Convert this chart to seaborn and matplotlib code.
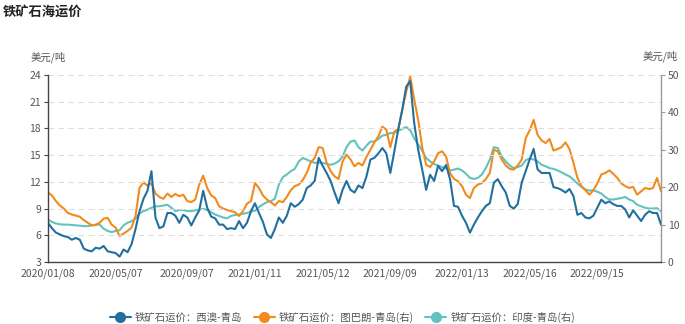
import numpy as np
import pandas as pd
import matplotlib
matplotlib.use('Agg')
import matplotlib.pyplot as plt
from matplotlib.lines import Line2D
import seaborn as sns

sns.set_style('white')
plt.rcParams['font.family'] = ['Noto Sans CJK SC', 'DejaVu Sans']
plt.rcParams['axes.unicode_minus'] = False

# weekly samples
blue = [7.4, 6.8, 6.3, 6.1, 5.9, 5.8, 5.5, 5.7, 5.5, 4.5,
        4.3, 4.2, 4.6, 4.5, 4.8, 4.2, 4.1, 4.0, 3.6, 4.4,
        4.1, 5.0, 6.7, 8.7, 10.1, 11.0, 13.2, 8.0, 6.8, 7.0,
        8.5, 8.5, 8.2, 7.4, 8.3, 8.0, 7.1, 8.0, 8.8, 11.0,
        9.1, 8.1, 7.9, 7.2, 7.2, 6.7, 6.8, 6.7, 7.6, 6.8,
        7.4, 8.7, 9.6, 8.5, 7.5, 6.1, 5.7, 6.7, 8.0, 7.4,
        8.2, 9.6, 9.2, 9.5, 10.0, 11.3, 11.6, 12.1, 14.7, 13.8,
        13.0, 12.1, 10.8, 9.6, 11.1, 12.1, 11.1, 10.8, 11.6, 11.3,
        12.6, 14.5, 14.7, 15.2, 15.8, 15.2, 13.0, 15.4, 17.9, 20.1,
        22.7, 23.3, 18.6, 15.6, 13.4, 11.1, 12.8, 12.1, 13.8, 13.2,
        13.9, 12.3, 9.3, 9.2, 8.2, 7.4, 6.3, 7.2, 8.0, 8.7,
        9.3, 9.6, 11.9, 12.3, 11.5, 10.8, 9.3, 9.0, 9.5, 11.9,
        13.2, 14.5, 15.7, 13.4, 13.0, 13.0, 13.0, 11.4, 11.3, 11.1,
        10.8, 11.2, 10.4, 8.3, 8.5, 8.0, 7.9, 8.2, 9.1, 10.0,
        9.6, 9.8, 9.5, 9.3, 9.3, 8.9, 8.0, 8.8, 8.2, 7.6,
        8.3, 8.7, 8.5, 8.5, 7.2]

orange = [18.6, 17.8, 16.3, 15.1, 14.3, 13.1, 12.7, 12.4, 12.1, 11.2,
          10.5, 9.8, 9.9, 10.5, 11.6, 11.8, 10.0, 9.2, 6.9, 7.6,
          8.3, 9.2, 12.3, 19.8, 21.3, 20.4, 21.1, 18.3, 17.4, 16.9,
          18.3, 17.4, 18.2, 17.6, 18.0, 16.3, 16.0, 16.7, 20.7, 23.1,
          19.8, 17.8, 17.1, 14.9, 14.3, 13.9, 13.6, 13.3, 12.3, 13.6,
          15.6, 16.3, 21.1, 19.8, 17.8, 16.7, 16.0, 15.1, 16.3, 16.0,
          17.4, 19.2, 20.3, 20.7, 21.9, 23.8, 26.6, 27.8, 30.7, 30.5,
          26.6, 24.3, 22.9, 22.2, 26.9, 28.7, 27.4, 25.6, 26.5, 25.8,
          28.1, 30.0, 32.0, 33.6, 36.2, 35.4, 30.7, 34.9, 35.5, 40.7,
          45.6, 49.6, 43.5, 38.0, 30.7, 26.0, 25.4, 26.9, 29.1, 29.6,
          28.2, 23.8, 22.2, 21.6, 20.3, 18.0, 17.1, 19.8, 20.7, 21.1,
          22.2, 23.8, 30.0, 29.6, 27.4, 25.8, 24.9, 24.7, 25.8, 27.4,
          33.1, 35.2, 38.0, 34.0, 32.5, 31.8, 32.9, 29.8, 30.2, 30.7,
          32.0, 30.2, 26.5, 22.5, 20.3, 19.2, 18.0, 19.2, 21.0, 23.4,
          23.8, 24.5, 23.6, 22.5, 21.0, 20.3, 19.8, 20.1, 18.0, 18.9,
          19.8, 19.5, 19.8, 22.5, 18.9]

cyan = [11.4, 10.7, 10.3, 10.1, 10.0, 10.0, 9.9, 9.8, 9.7, 9.6,
        9.6, 9.8, 10.0, 10.0, 8.9, 8.3, 8.0, 8.3, 8.5, 9.8,
        10.5, 10.9, 11.6, 13.0, 13.6, 14.0, 14.5, 14.9, 14.9, 15.1,
        15.3, 14.5, 13.6, 13.9, 13.9, 13.6, 13.6, 13.8, 14.0, 14.2,
        13.9, 13.3, 12.7, 12.3, 11.9, 11.7, 12.3, 12.6, 12.7, 12.9,
        13.1, 13.5, 13.7, 14.7, 15.4, 16.0, 16.3, 16.9, 20.7, 22.7,
        23.4, 24.3, 24.9, 26.9, 27.8, 27.4, 26.9, 26.5, 26.6, 26.5,
        26.2, 26.0, 26.3, 26.9, 28.2, 30.7, 32.2, 32.5, 30.7, 29.8,
        31.1, 32.2, 32.2, 32.9, 33.8, 34.0, 34.5, 34.5, 35.1, 35.6,
        36.1, 35.2, 33.1, 31.4, 29.8, 27.8, 26.9, 26.2, 25.8, 25.4,
        25.0, 24.5, 24.7, 25.0, 24.5, 23.6, 22.5, 22.2, 22.5, 23.4,
        25.1, 27.4, 30.7, 30.5, 28.2, 26.9, 25.8, 25.1, 25.4, 25.8,
        27.2, 27.7, 27.4, 26.9, 26.0, 25.6, 25.1, 24.9, 24.5, 24.0,
        23.4, 22.9, 22.0, 21.0, 20.1, 19.4, 19.1, 19.2, 18.8, 18.3,
        17.4, 16.7, 16.7, 16.9, 17.1, 17.4, 16.7, 16.3, 15.3, 14.9,
        14.5, 14.3, 14.3, 14.4, 13.6]

tick_pos = [0, 17, 35, 52, 69, 86, 104, 121, 138]
tick_labels = ['2020/01/08', '2020/05/07', '2020/09/07', '2021/01/11', '2021/05/12',
               '2021/09/09', '2022/01/13', '2022/05/16', '2022/09/15']
names = ['铁矿石运价：西澳-青岛', '铁矿石运价：图巴朗-青岛(右)', '铁矿石运价：印度-青岛(右)']
colors = ['#21709f', '#f28a1c', '#62c3be']

df = pd.DataFrame({'idx': np.arange(len(blue)), 'blue': blue, 'orange': orange, 'cyan': cyan})

fig = plt.figure(figsize=(6.85, 3.24), dpi=100)
ax = fig.add_axes([0.070, 0.1914, 0.895, 0.577])
ax2 = ax.twinx()

sns.lineplot(data=df, x='idx', y='blue', ax=ax, color=colors[0], lw=1.5, legend=False)
sns.lineplot(data=df, x='idx', y='cyan', ax=ax2, color=colors[2], lw=1.5, legend=False)
sns.lineplot(data=df, x='idx', y='orange', ax=ax2, color=colors[1], lw=1.5, legend=False)
ax.set_zorder(ax2.get_zorder() + 1)
ax.patch.set_visible(False)

ax.set_xlim(0, len(blue) - 1)
ax.set_ylim(3, 24)
ax.set_yticks([3, 6, 9, 12, 15, 18, 21, 24])
ax2.set_ylim(0, 50)
ax2.set_yticks([0, 10, 20, 30, 40, 50])
ax.set_xticks(tick_pos)
ax.set_xticklabels(tick_labels)
ax.set_xlabel('')
ax.set_ylabel('')
ax2.set_ylabel('')

ax.yaxis.grid(True, linestyle=(0, (5, 4)), color='#dddddd', lw=0.8)
ax.xaxis.grid(False)

for s in ['top', 'right']:
    ax.spines[s].set_visible(False)
for s in ['top', 'left', 'bottom']:
    ax2.spines[s].set_visible(False)
ax.spines['left'].set_color('#444444')
ax.spines['bottom'].set_color('#444444')
ax2.spines['right'].set_color('#999999')
for s in [ax.spines['left'], ax.spines['bottom'], ax2.spines['right']]:
    s.set_linewidth(1.0)

ax.tick_params(axis='both', labelsize=7.5, labelcolor='#555555', length=3, color='#444444', pad=2)
ax2.tick_params(axis='y', labelsize=7.5, labelcolor='#555555', length=3, color='#999999', pad=2)

fig.text(0.004, 0.963, '铁矿石海运价', fontsize=9.5, fontweight='bold', va='center', color='#222222')
fig.text(31 / 685, 1 - 57 / 324, '美元/吨', fontsize=7.5, color='#555555', va='center')
fig.text(678 / 685, 1 - 56 / 324, '美元/吨', fontsize=7.5, color='#555555', va='center', ha='right')

handles = [Line2D([0], [0], color=c, lw=1.5, marker='o', markersize=7) for c in colors]
fig.legend(handles, names, loc='center', bbox_to_anchor=(0.5, 0.02), ncol=3, frameon=False,
           fontsize=7.5, handlelength=2.0, columnspacing=1.1, handletextpad=0.4,
           labelcolor='#555555')

fig.savefig('out.png', dpi=100)
